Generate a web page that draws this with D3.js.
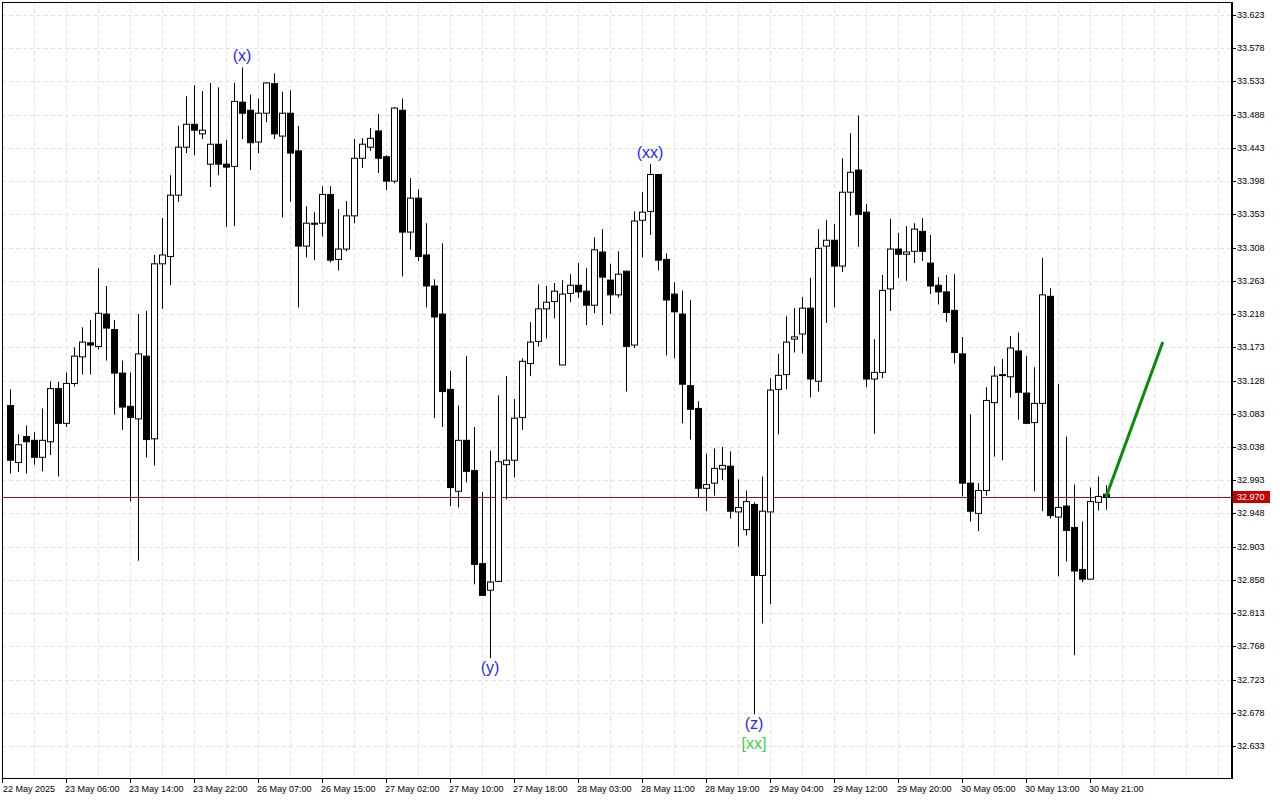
<!DOCTYPE html>
<html>
<head>
<meta charset="utf-8">
<script src="https://cdn.jsdelivr.net/npm/d3@7"></script>
<style>
  html, body { margin: 0; padding: 0; background: #fff; }
  svg { display: block; }
  text { font-family: "Liberation Sans", Arial, sans-serif; }
</style>
</head>
<body>
<div id="chart"></div>
<script>
// hourly bars, 22 May 22:00 .. 30 May 23:00 (open, high, low, close)
const opens = [33.094,33.017,33.052,33.047,33.024,33.045,33.117,33.070,33.124,33.160,33.179,33.174,33.218,33.197,33.138,33.093,33.076,33.161,33.049,33.286,
  33.296,33.379,33.444,33.475,33.462,33.421,33.448,33.421,33.418,33.505,33.494,33.451,33.490,33.530,33.459,33.490,33.439,33.310,33.341,33.341,
  33.380,33.292,33.306,33.351,33.429,33.444,33.466,33.431,33.398,33.494,33.329,33.375,33.298,33.256,33.218,33.116,32.978,33.047,33.006,32.880,
  32.844,32.856,33.014,33.020,33.078,33.151,33.181,33.225,33.235,33.149,33.246,33.257,33.249,33.230,33.302,33.264,33.244,33.276,33.176,33.345,
  33.357,33.407,33.292,33.245,33.218,33.121,33.090,32.982,32.989,33.008,33.012,32.950,32.926,32.960,32.864,32.950,33.116,33.136,33.184,33.191,
  33.226,33.127,33.310,33.318,33.283,33.383,33.413,33.356,33.130,33.139,33.252,33.306,33.299,33.303,33.330,33.287,33.257,33.248,33.223,33.164,
  32.989,32.948,32.979,33.098,33.135,33.133,33.168,33.111,33.071,33.097,33.242,32.943,32.958,32.929,32.872,32.859,32.963,32.974];
const highs = [33.116,33.055,33.067,33.058,33.090,33.127,33.126,33.139,33.173,33.200,33.210,33.280,33.256,33.210,33.155,33.139,33.218,33.222,33.298,33.348,
  33.406,33.473,33.513,33.528,33.520,33.531,33.525,33.454,33.531,33.552,33.515,33.510,33.532,33.544,33.519,33.521,33.473,33.364,33.356,33.391,
  33.391,33.360,33.371,33.455,33.456,33.470,33.489,33.433,33.498,33.510,33.402,33.387,33.341,33.265,33.314,33.141,33.094,33.161,33.065,32.977,
  33.033,33.108,33.134,33.103,33.158,33.207,33.258,33.256,33.260,33.264,33.272,33.287,33.280,33.322,33.333,33.286,33.303,33.277,33.357,33.383,
  33.421,33.407,33.300,33.261,33.250,33.237,33.100,33.029,33.036,33.038,33.032,32.994,32.979,32.963,32.998,33.131,33.164,33.215,33.226,33.241,
  33.267,33.333,33.345,33.340,33.429,33.463,33.487,33.367,33.184,33.271,33.347,33.328,33.337,33.341,33.348,33.325,33.268,33.271,33.272,33.187,
  33.082,32.989,33.119,33.147,33.157,33.188,33.193,33.161,33.146,33.294,33.253,33.123,33.052,32.987,32.937,32.983,32.998,32.986];
const lows = [33.002,33.004,33.002,33.014,33.005,33.027,32.998,33.065,33.120,33.136,33.136,33.170,33.155,33.082,33.061,32.964,32.884,33.024,33.013,33.225,
  33.257,33.370,33.436,33.433,33.455,33.390,33.406,33.336,33.337,33.455,33.413,33.436,33.478,33.455,33.349,33.370,33.227,33.295,33.291,33.323,
  33.288,33.277,33.303,33.341,33.416,33.439,33.409,33.386,33.395,33.269,33.305,33.290,33.227,33.077,33.065,32.958,32.956,32.990,32.852,32.837,
  32.752,32.855,32.967,32.997,33.061,33.134,33.174,33.185,33.212,33.149,33.234,33.240,33.203,33.219,33.203,33.218,33.240,33.113,33.172,33.295,
  33.325,33.277,33.162,33.158,33.070,33.048,32.970,32.951,32.972,32.993,32.941,32.903,32.918,32.676,32.799,32.825,33.055,33.116,33.166,33.165,
  33.105,33.113,33.206,33.227,33.275,33.351,33.309,33.119,33.056,33.131,33.222,33.267,33.263,33.287,33.290,33.245,33.231,33.207,33.151,32.971,
  32.937,32.924,32.972,33.025,33.020,33.105,33.075,33.070,32.978,32.951,32.941,32.863,32.883,32.756,32.855,32.859,32.952,32.953];
const closes = [33.020,33.041,33.045,33.024,33.047,33.117,33.070,33.124,33.161,33.180,33.176,33.219,33.199,33.138,33.092,33.078,33.164,33.048,33.286,33.298,
  33.379,33.444,33.475,33.467,33.467,33.448,33.421,33.417,33.506,33.490,33.450,33.490,33.531,33.462,33.490,33.436,33.310,33.341,33.340,33.380,
  33.291,33.306,33.351,33.429,33.448,33.456,33.429,33.398,33.497,33.329,33.375,33.296,33.256,33.214,33.113,32.983,33.047,33.005,32.879,32.837,
  32.855,33.018,33.020,33.077,33.154,33.180,33.225,33.234,33.249,33.245,33.257,33.248,33.230,33.305,33.268,33.244,33.272,33.174,33.344,33.356,
  33.407,33.291,33.237,33.221,33.123,33.089,32.982,32.987,33.009,33.013,32.951,32.956,32.964,32.864,32.951,33.115,33.135,33.180,33.187,33.226,
  33.130,33.307,33.318,33.283,33.383,33.410,33.353,33.130,33.139,33.250,33.306,33.299,33.302,33.333,33.303,33.256,33.248,33.220,33.166,32.989,
  32.951,32.979,33.101,33.134,33.136,33.172,33.112,33.070,33.097,33.244,32.945,32.956,32.925,32.870,32.859,32.964,32.971,32.970];

const priceTicks = [33.623,33.578,33.533,33.488,33.443,33.398,33.353,33.308,33.263,33.218,33.173,33.128,33.083,
  33.038,32.993,32.948,32.903,32.858,32.813,32.768,32.723,32.678,32.633];
const timeLabels = ["22 May 2025","23 May 06:00","23 May 14:00","23 May 22:00","26 May 07:00","26 May 15:00",
  "27 May 02:00","27 May 10:00","27 May 18:00","28 May 03:00","28 May 11:00","28 May 19:00","29 May 04:00",
  "29 May 12:00","29 May 20:00","30 May 05:00","30 May 13:00","30 May 21:00"];
const timeLabelBars = [-1,7,15,23,31,39,47,55,63,71,79,87,95,103,111,119,127,135];

const waveNames = ["(x)","(y)","(xx)","(z)"];
const waveBars = [29,60,80,93];
const waveSide = ["top","bottom","top","bottom"];

const currentPrice = 32.970;
const forecastFrom = [137, 32.970];
const forecastTo = [144.1, 33.180];

const W = 1280, H = 800;
const plot = { left: 2, right: 1231, top: 2, bottom: 778 };

const svg = d3.select("#chart").append("svg").attr("width", W).attr("height", H);

const x = d3.scaleLinear().domain([0, 137]).range([10, 1106]);
const y = d3.scaleLinear().domain([32.633, 33.623]).range([746, 15]);

const bars = opens.map((o, i) => ({ i, o, h: highs[i], l: lows[i], c: closes[i] }));

// grid
const grid = svg.append("g").attr("stroke", "#e3e3e3").attr("stroke-dasharray", "4,3").attr("stroke-width", 1);
grid.selectAll("line.h").data(priceTicks).join("line")
  .attr("x1", plot.left).attr("x2", plot.right)
  .attr("y1", d => Math.round(y(d)) + 0.5).attr("y2", d => Math.round(y(d)) + 0.5);
grid.selectAll("line.v").data(d3.range(-1, 152, 4)).join("line")
  .attr("x1", d => Math.round(x(d)) + 0.5).attr("x2", d => Math.round(x(d)) + 0.5)
  .attr("y1", plot.top).attr("y2", plot.bottom);

svg.append("clipPath").attr("id", "clip").append("rect")
  .attr("x", plot.left).attr("y", plot.top).attr("width", plot.right - plot.left).attr("height", plot.bottom - plot.top);

const g = svg.append("g").attr("clip-path", "url(#clip)");

// current price line
g.append("line")
  .attr("x1", plot.left).attr("x2", plot.right)
  .attr("y1", Math.round(y(currentPrice)) + 0.5).attr("y2", Math.round(y(currentPrice)) + 0.5)
  .attr("stroke", "#a01010").attr("stroke-width", 1);

// candles
const candle = g.selectAll("g.candle").data(bars).join("g");
candle.append("line")
  .attr("x1", d => Math.round(x(d.i)) + 0.5).attr("x2", d => Math.round(x(d.i)) + 0.5)
  .attr("y1", d => y(d.h)).attr("y2", d => y(d.l))
  .attr("stroke", "#000").attr("stroke-width", 1);
candle.append("rect")
  .attr("x", d => Math.round(x(d.i)) - 2.5)
  .attr("y", d => y(Math.max(d.o, d.c)))
  .attr("width", 6)
  .attr("height", d => Math.max(1, Math.abs(y(d.o) - y(d.c))))
  .attr("fill", d => d.c < d.o ? "#000" : "#fff")
  .attr("stroke", "#000").attr("stroke-width", 1);

// forecast line
g.append("line")
  .attr("x1", x(forecastFrom[0])).attr("y1", y(forecastFrom[1]))
  .attr("x2", x(forecastTo[0])).attr("y2", y(forecastTo[1]))
  .attr("stroke", "#0a8a0a").attr("stroke-width", 3);

// wave labels
waveNames.forEach((name, k) => {
  const b = bars[waveBars[k]];
  const top = waveSide[k] === "top";
  g.append("text")
    .attr("x", x(b.i))
    .attr("y", top ? y(b.h) - 6 : y(b.l) + 15)
    .attr("text-anchor", "middle")
    .attr("font-size", 16)
    .attr("fill", "#1e28ff")
    .text(name);
});
{
  const b = bars[93];
  g.append("text").attr("x", x(b.i)).attr("y", y(b.l) + 35)
    .attr("text-anchor", "middle").attr("font-size", 16).attr("fill", "#3cd23c").text("[xx]");
}

// frame
svg.append("line").attr("x1", plot.left + 0.5).attr("x2", plot.left + 0.5).attr("y1", plot.top).attr("y2", plot.bottom).attr("stroke", "#000");
svg.append("line").attr("x1", plot.left).attr("x2", plot.right).attr("y1", plot.top + 0.5).attr("y2", plot.top + 0.5).attr("stroke", "#000");
svg.append("line").attr("x1", plot.left).attr("x2", plot.right + 1).attr("y1", plot.bottom + 0.5).attr("y2", plot.bottom + 0.5).attr("stroke", "#000");
svg.append("line").attr("x1", plot.right + 1).attr("x2", plot.right + 1).attr("y1", plot.top).attr("y2", plot.bottom + 1).attr("stroke", "#000").attr("stroke-width", 2);

// price axis
const yAxis = svg.append("g");
yAxis.selectAll("line").data(priceTicks).join("line")
  .attr("x1", plot.right + 2).attr("x2", plot.right + 5)
  .attr("y1", d => Math.round(y(d)) + 0.5).attr("y2", d => Math.round(y(d)) + 0.5)
  .attr("stroke", "#000");
yAxis.selectAll("text").data(priceTicks).join("text")
  .attr("x", 1237).attr("y", d => y(d) + 3)
  .attr("font-size", 9).attr("fill", "#000")
  .text(d => d.toFixed(3));

// current price tag
const cy = Math.round(y(currentPrice));
svg.append("rect").attr("x", plot.right + 2).attr("y", cy - 6).attr("width", 37).attr("height", 12).attr("fill", "#c40000");
svg.append("text").attr("x", 1237).attr("y", cy + 3).attr("font-size", 9).attr("fill", "#fff").text(currentPrice.toFixed(3));

// time axis
const xAxis = svg.append("g");
xAxis.selectAll("line").data(timeLabelBars).join("line")
  .attr("x1", d => Math.max(plot.left, Math.round(x(d))) + 0.5).attr("x2", d => Math.max(plot.left, Math.round(x(d))) + 0.5)
  .attr("y1", plot.bottom).attr("y2", plot.bottom + 5)
  .attr("stroke", "#000");
xAxis.selectAll("text").data(timeLabels).join("text")
  .attr("x", (d, i) => Math.max(plot.left + 1, Math.round(x(timeLabelBars[i])) - 1))
  .attr("y", 792)
  .attr("font-size", 9).attr("fill", "#000")
  .text(d => d);
</script>
</body>
</html>
